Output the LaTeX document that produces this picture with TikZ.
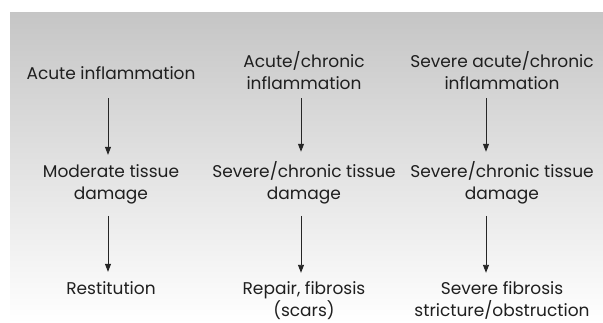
\documentclass[tikz,border=0pt]{standalone}
\usepackage{fontspec}
\setmainfont{Poppins}
\usetikzlibrary{arrows.meta}
\begin{document}
\begin{tikzpicture}[x=1pt,y=-1pt,
  lbl/.style={font=\fontsize{17}{22}\selectfont, align=center, inner sep=0pt, anchor=base, text=black!88},
  arr/.style={draw=black!85, line width=0.9pt, -{Triangle[length=8pt,width=6pt]}}]
\useasboundingbox (0,0) rectangle (603,323);
\fill[white] (0,0) rectangle (603,323);
\shade[top color=gray!45, bottom color=white] (10,13) rectangle (603,323);
\coordinate (x1) at (108,0);
\coordinate (x2) at (301,0);
\coordinate (x3) at (486,0);
\node[lbl] (a1) at (111,80) {Acute inflammation};
\node[lbl] (a2) at (304,90) {Acute/chronic\\inflammation};
\node[lbl] (a3) at (502,90) {Severe acute/chronic\\inflammation};
\node[lbl] (b1) at (111,200) {Moderate tissue\\damage};
\node[lbl] (b2) at (304,200) {Severe/chronic tissue\\damage};
\node[lbl] (b3) at (502,200) {Severe/chronic tissue\\damage};
\node[lbl] (c1) at (111,295) {Restitution};
\node[lbl] (c2) at (304,317) {Repair, fibrosis\\(scars)};
\node[lbl] (c3) at (502,317) {Severe fibrosis\\stricture/obstruction};
\draw[arr, shorten <=18pt, shorten >=10pt] (a1.south -| x1) -- (b1.north -| x1);
\draw[arr, shorten <=8pt, shorten >=10pt] (a2.south -| x2) -- (b2.north -| x2);
\draw[arr, shorten <=8pt, shorten >=10pt] (a3.south -| x3) -- (b3.north -| x3);
\draw[arr, shorten <=11pt, shorten >=10pt] (b1.south -| x1) -- (c1.north -| x1);
\draw[arr, shorten <=11pt, shorten >=9pt] (b2.south -| x2) -- (c2.north -| x2);
\draw[arr, shorten <=11pt, shorten >=9pt] (b3.south -| x3) -- (c3.north -| x3);
\end{tikzpicture}
\end{document}
